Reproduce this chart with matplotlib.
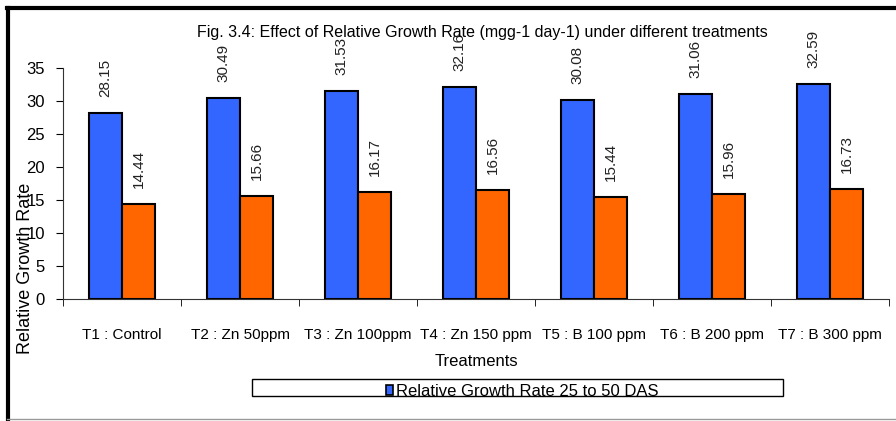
import matplotlib
matplotlib.use("Agg")
import matplotlib.pyplot as plt
import numpy as np
from matplotlib.lines import Line2D
from matplotlib.patches import Rectangle

categories = ["T1 : Control", "T2 : Zn 50ppm", "T3 : Zn 100ppm", "T4 : Zn 150 ppm",
              "T5 : B 100 ppm", "T6 : B 200 ppm", "T7 : B 300 ppm"]
rgr_25_50 = [28.15, 30.49, 31.53, 32.16, 30.08, 31.06, 32.59]
rgr_50_75 = [14.44, 15.66, 16.17, 16.56, 15.44, 15.96, 16.73]
yticks = [0, 5, 10, 15, 20, 25, 30, 35]

plt.rcParams['font.family'] = ['Liberation Sans Narrow', 'Liberation Sans', 'DejaVu Sans']
fig = plt.figure(figsize=(8.96, 4.21), dpi=100)
W, H = 896, 421
ax = fig.add_axes([63 / W, 1 - 299 / H, (889 - 63) / W, (299 - 68) / H])

x = np.arange(len(categories))
bw = 0.28
b1 = ax.bar(x - bw / 2, rgr_25_50, bw, color="#3366FF", edgecolor="black", linewidth=1.5)
b2 = ax.bar(x + bw / 2, rgr_50_75, bw, color="#FF6600", edgecolor="black", linewidth=1.5)

for bars, vals in ((b1, rgr_25_50), (b2, rgr_50_75)):
    for r, v in zip(bars, vals):
        ax.annotate(f"{v:.2f}", (r.get_x() + r.get_width() / 2, v), xytext=(0, 11.5),
                    textcoords="offset points", rotation=90, ha="center", va="bottom",
                    fontsize=11, color="#222222")

ax.set_xlim(-0.5, len(categories) - 0.5)
ax.set_ylim(0, 35)
ax.set_yticks(yticks)
ax.set_xticks(x)
ax.set_xticklabels(categories, fontsize=11)
ax.set_xticks(np.arange(len(categories) + 1) - 0.5, minor=True)
ax.tick_params(axis="x", which="major", length=0, pad=21)
ax.tick_params(axis="x", which="minor", length=5, direction="out")
ax.tick_params(axis="y", length=5, direction="out", labelsize=12, pad=8)
for s in ("top", "right"):
    ax.spines[s].set_visible(False)
ax.spines["left"].set_color("#333333")
ax.spines["bottom"].set_color("#333333")

fig.text(25 / W, 1 - 268 / H, "Relative Growth Rate", rotation=90, ha="center", va="center", fontsize=13)
fig.text(476 / W, 1 - 361 / H, "Treatments", ha="center", va="center", fontsize=12)
fig.text(482 / W, 1 - 33 / H, "Fig. 3.4: Effect of Relative Growth Rate (mgg-1 day-1) under different treatments",
         ha="center", va="center", fontsize=11.5)

# legend box
fig.patches.append(Rectangle((252 / W, 1 - 396 / H), (783 - 252) / W, (396 - 379) / H,
                             transform=fig.transFigure, facecolor="white", edgecolor="black", linewidth=1))
fig.patches.append(Rectangle((386 / W, 1 - 395 / H), 7 / W, 10 / H, transform=fig.transFigure,
                             facecolor="#3366FF", edgecolor="black", linewidth=1.2))
fig.text(396 / W, 1 - 391 / H, "Relative Growth Rate 25 to 50 DAS", ha="left", va="center", fontsize=12)

# outer frame
fig.lines.append(Line2D([7 / W, 1.0], [1 - 8 / H, 1 - 8 / H], transform=fig.transFigure, color="black", linewidth=3))
fig.lines.append(Line2D([8 / W, 8 / W], [1 - 8 / H, 1 - 419 / H], transform=fig.transFigure, color="black", linewidth=3))
fig.lines.append(Line2D([7 / W, 1.0], [1 - 419 / H, 1 - 419 / H], transform=fig.transFigure, color="#999999", linewidth=1))

fig.savefig("out.png", dpi=100)
